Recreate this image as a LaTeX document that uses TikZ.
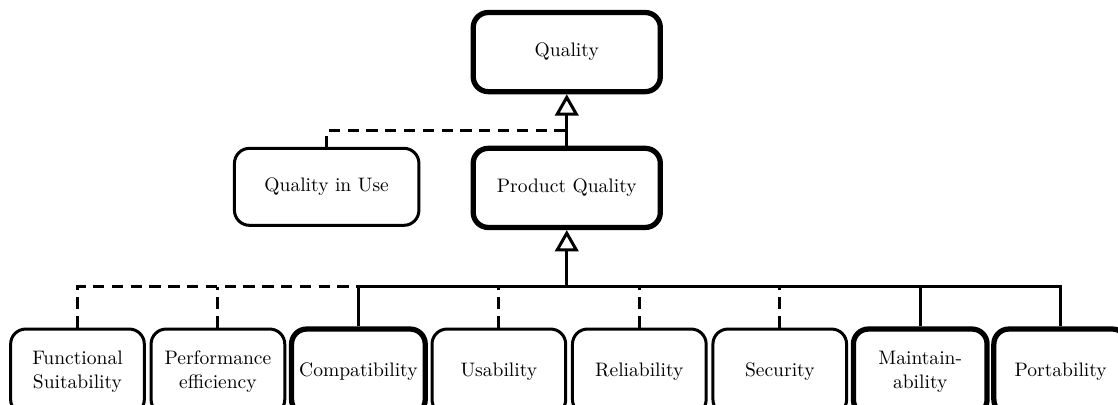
\documentclass[tikz,border=0pt]{standalone}
\usetikzlibrary{arrows.meta}

\begin{document}
\begin{tikzpicture}[
    font=\fontsize{10.4pt}{13pt}\selectfont,
    box/.style={draw, line width=1.6pt, rounded corners=8pt, align=center, inner sep=0pt},
    bigbox/.style={box, line width=2.8pt},
    top/.style={minimum width=3.5cm, minimum height=1.48cm},
    leaf/.style={minimum width=2.5cm, minimum height=1.6cm},
    link/.style={line width=1.6pt},
    dlink/.style={link, dash pattern=on 6pt off 4pt},
    isa/.style={link, -{Triangle[open, length=0.4cm, width=0.44cm, line width=1.6pt]}}
  ]
    \useasboundingbox (0,0) rectangle (20.91,7.574);

    \node [bigbox, top] (q) at (10.60,6.60) {Quality};
    \node [bigbox, top] (pq) at (10.60,4.06) {Product Quality};
    \node [box, top, minimum width=3.45cm, minimum height=1.44cm] (qu) at (6.11,4.08) {Quality in Use};

    \node [box, leaf] (func) at (1.449,0.62) {Functional\\Suitability};
    \node [box, leaf] (perf) at (4.076,0.62) {Performance\\efficiency};
    \node [bigbox, leaf] (comp) at (6.703,0.62) {Compatibility};
    \node [box, leaf] (usab) at (9.330,0.62) {Usability};
    \node [box, leaf] (reli) at (11.957,0.62) {Reliability};
    \node [box, leaf] (secu) at (14.584,0.62) {Security};
    \node [bigbox, leaf] (main) at (17.211,0.62) {Maintain-\\ability};
    \node [bigbox, leaf] (port) at (19.838,0.62) {Portability};

    \coordinate (bus) at (10.60,2.21);
    \coordinate (use) at (10.60,5.14);

    \draw [isa] (pq.north) -- (q.south);
    \draw [dlink] (qu.north) |- (use);

    \draw [isa] (bus) -- (pq.south);
    \draw [link] (comp.north) |- (bus) -| (port.north);
    \draw [link] (main.north) -- (main.north |- bus);
    \draw [dlink] (func.north) |- (comp.north |- bus);
    \draw [dlink] (perf.north) -- (perf.north |- bus);
    \draw [dlink] (usab.north) -- (usab.north |- bus);
    \draw [dlink] (reli.north) -- (reli.north |- bus);
    \draw [dlink] (secu.north) -- (secu.north |- bus);
\end{tikzpicture}
\end{document}
